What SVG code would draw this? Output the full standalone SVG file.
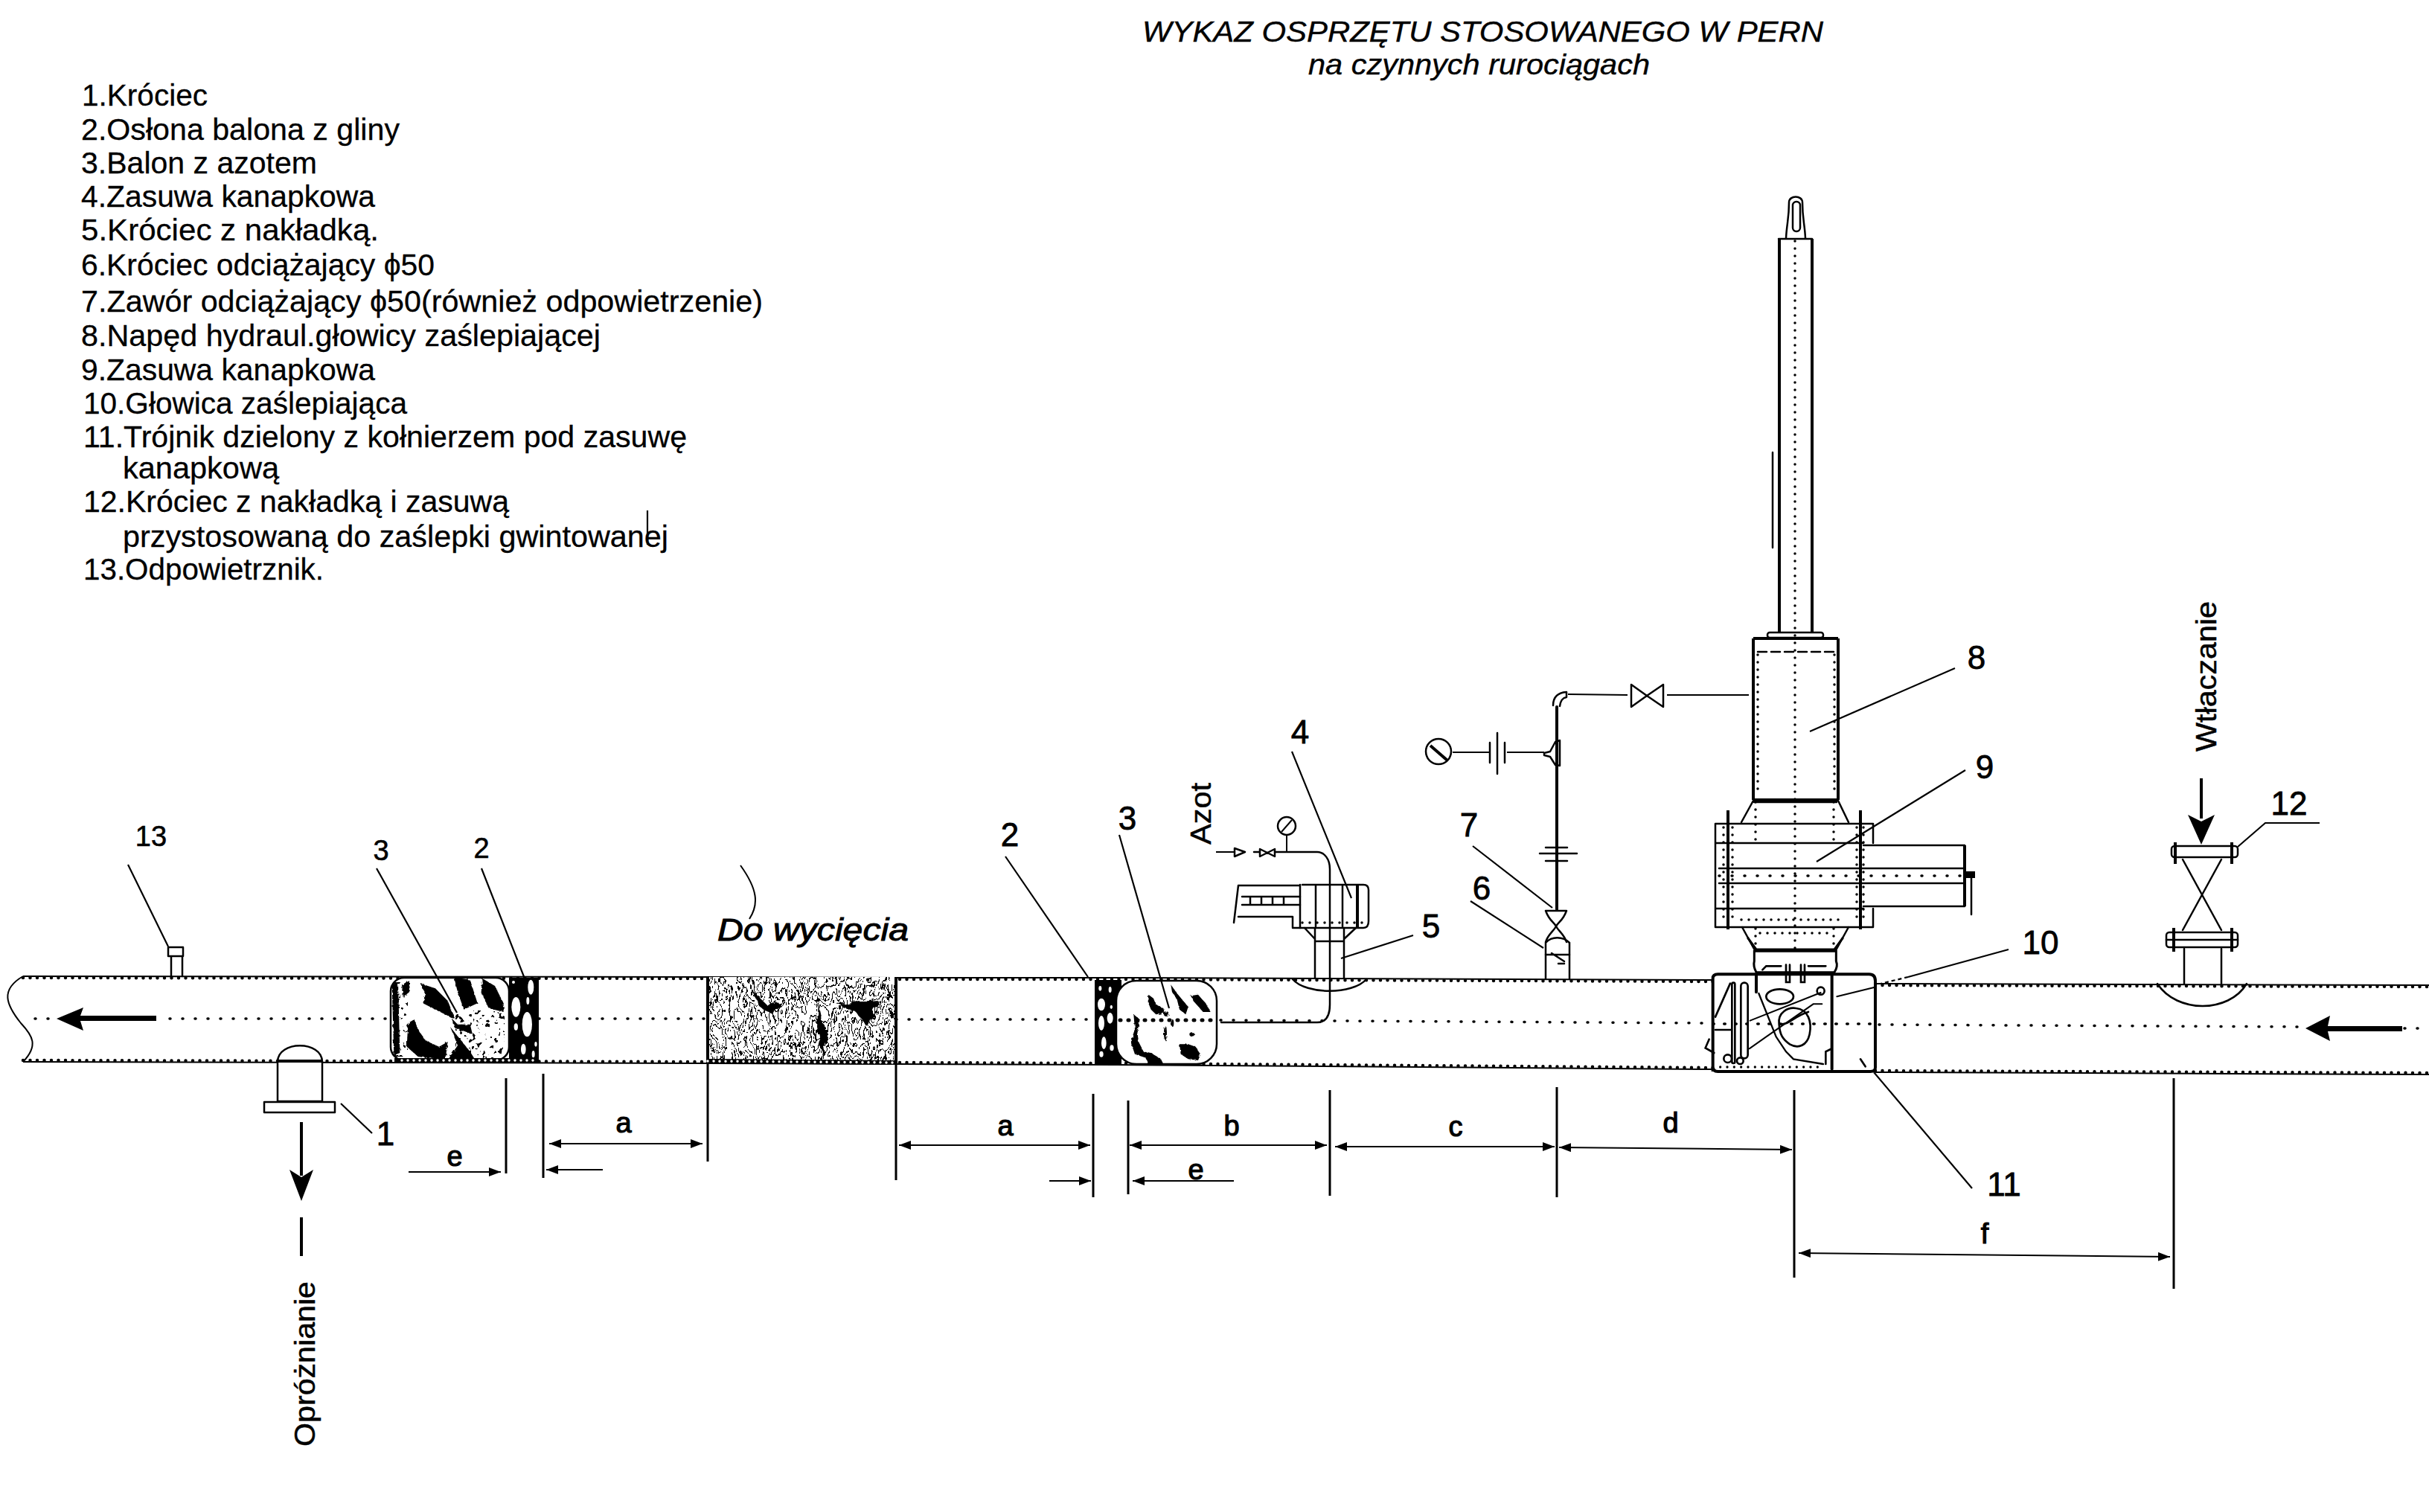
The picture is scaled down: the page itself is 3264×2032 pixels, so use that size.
<svg xmlns="http://www.w3.org/2000/svg" width="3264" height="2032" viewBox="0 0 3264 2032">
<style>
text{font-family:"Liberation Sans",Arial,sans-serif;fill:#000}
.l{font-size:40px;stroke:#000;stroke-width:.3}
.t{font-size:38px;font-style:italic;stroke:#000;stroke-width:.4}
.n{font-size:44px;text-anchor:middle;stroke:#000;stroke-width:.8}
.s{font-size:38px;text-anchor:middle;stroke:#000;stroke-width:.6}
.d{font-size:38px;text-anchor:middle;stroke:#000;stroke-width:1.2}
.v{font-size:38px;stroke:#000;stroke-width:.5}
.o,.o *{fill:none;stroke:#000;stroke-width:2.5;stroke-linecap:round;stroke-linejoin:round}
.th,.th *{stroke-width:4}
.w{fill:#fff;stroke:#000;stroke-width:2.5;stroke-linejoin:round}
.b{fill:#000;stroke:none}
.f{fill:#fff;stroke:none}
.lead{fill:none;stroke:#000;stroke-width:2.2}
.dim{fill:none;stroke:#000;stroke-width:2;marker-start:url(#ah);marker-end:url(#ah)}
.dimr{fill:none;stroke:#000;stroke-width:2;marker-end:url(#ah)}
.ext{fill:none;stroke:#000;stroke-width:3}
.pl{fill:none;stroke:#000;stroke-width:2}
.pd{fill:none;stroke:#000;stroke-width:4.5;stroke-linecap:round;stroke-dasharray:0 9.5}
.cl{fill:none;stroke:#000;stroke-width:3.5;stroke-linecap:round;stroke-dasharray:1 16}
.vd{fill:none;stroke:#000;stroke-width:3.5;stroke-linecap:round;stroke-dasharray:0 10}
.big{fill:none;stroke:#000;stroke-width:4}
</style>
<defs>
<marker id="ah" viewBox="0 0 16 12" refX="16" refY="6" markerWidth="16" markerHeight="12" markerUnits="userSpaceOnUse" orient="auto-start-reverse"><path d="M0 0L16 6L0 12Z"/></marker>
<filter id="rough" x="-5%" y="-5%" width="110%" height="110%"><feTurbulence type="fractalNoise" baseFrequency="0.09" numOctaves="2" seed="4" result="n"/><feDisplacementMap in="SourceGraphic" in2="n" scale="12"/></filter>
<filter id="speck" x="0" y="0" width="100%" height="100%" color-interpolation-filters="sRGB"><feTurbulence type="fractalNoise" baseFrequency="0.17" numOctaves="2" seed="9"/><feColorMatrix values="0 0 0 0 0 0 0 0 0 0 0 0 0 0 0 22 0 0 0 -13.6"/></filter>
<filter id="veins" x="0" y="0" width="100%" height="100%" color-interpolation-filters="sRGB"><feTurbulence type="fractalNoise" baseFrequency="0.06 0.024" numOctaves="4" seed="21"/><feColorMatrix values="0 0 0 0 0 0 0 0 0 0 0 0 0 0 0 1 0 0 0 0"/><feComponentTransfer><feFuncA type="discrete" tableValues="0 0 0 0 0 0 0 0 0 0 1 0 0 0 1 0 0 0 1 0 0 0 1 0 0 0 0 0 0 0 0"/></feComponentTransfer></filter>
<clipPath id="cb1"><rect x="525" y="1314" width="158" height="110" rx="17"/></clipPath>
<clipPath id="cb3"><rect x="951" y="1313" width="253" height="116"/></clipPath>
</defs>
<rect width="3264" height="2032" fill="#fff"/>

<g id="title">
<text class="t" x="1535" y="56" textLength="915" lengthAdjust="spacingAndGlyphs">WYKAZ OSPRZĘTU STOSOWANEGO W PERN</text>
<text class="t" x="1758" y="100" textLength="459" lengthAdjust="spacingAndGlyphs">na czynnych rurociągach</text>
</g>

<g id="legend">
<text class="l" x="110" y="142" textLength="169" lengthAdjust="spacingAndGlyphs">1.Króciec</text>
<text class="l" x="109" y="188" textLength="428" lengthAdjust="spacingAndGlyphs">2.Osłona balona z gliny</text>
<text class="l" x="109" y="233" textLength="317" lengthAdjust="spacingAndGlyphs">3.Balon z azotem</text>
<text class="l" x="109" y="278" textLength="395" lengthAdjust="spacingAndGlyphs">4.Zasuwa kanapkowa</text>
<text class="l" x="109" y="323" textLength="400" lengthAdjust="spacingAndGlyphs">5.Króciec  z nakładką.</text>
<text class="l" x="109" y="370" textLength="475" lengthAdjust="spacingAndGlyphs">6.Króciec odciążający ϕ50</text>
<text class="l" x="109" y="419" textLength="916" lengthAdjust="spacingAndGlyphs">7.Zawór odciążający ϕ50(również odpowietrzenie)</text>
<text class="l" x="109" y="465" textLength="698" lengthAdjust="spacingAndGlyphs">8.Napęd hydraul.głowicy zaślepiającej</text>
<text class="l" x="109" y="511" textLength="395" lengthAdjust="spacingAndGlyphs">9.Zasuwa kanapkowa</text>
<text class="l" x="112" y="556" textLength="435" lengthAdjust="spacingAndGlyphs">10.Głowica zaślepiająca</text>
<text class="l" x="112" y="601" textLength="811" lengthAdjust="spacingAndGlyphs">11.Trójnik dzielony z kołnierzem pod zasuwę</text>
<text class="l" x="165" y="643" textLength="210" lengthAdjust="spacingAndGlyphs">kanapkową</text>
<text class="l" x="112" y="688" textLength="572" lengthAdjust="spacingAndGlyphs">12.Króciec z nakładką i zasuwą</text>
<text class="l" x="165" y="735" textLength="733" lengthAdjust="spacingAndGlyphs">przystosowaną do zaślepki gwintowanej</text>
<text class="l" x="112" y="779" textLength="323" lengthAdjust="spacingAndGlyphs">13.Odpowietrznik.</text>
<path class="lead" d="M870 686V732"/>
</g>

<g id="pipeline">
<path class="pl" d="M31 1312C0 1330 8 1350 28 1375C44 1392 52 1405 31 1427"/>
<path class="pl" d="M31 1312L951 1313L1204 1314L1500 1314L2302 1317"/>
<path class="pd" d="M31 1314L951 1315L1204 1316L1500 1316L2302 1319"/>
<path class="pl" d="M31 1427L951 1429L1204 1430L1500 1431L2302 1437"/>
<path class="pd" d="M31 1425L951 1427L1204 1428L1500 1429L2302 1435"/>
<path class="pl" d="M2520 1322L3264 1324"/>
<path class="pd" d="M2520 1324L3264 1326"/>
<path class="pl" d="M2520 1441L3264 1444"/>
<path class="pd" d="M2520 1439L3264 1442"/>
<path class="cl" d="M228 1369L524 1369M690 1369H951M1204 1370H1465M1640 1371L2300 1375M2525 1377L3098 1380"/>
<path class="cl" d="M47 1369H70M3231 1382H3264"/>
<path class="b" d="M76 1369L112 1354L108 1365H210V1372H108L112 1385Z"/>
<path class="b" d="M3098 1382L3131 1365L3128 1379H3228V1386H3128L3131 1399Z"/>
</g>

<g id="n13">
<path class="o" d="M230 1285V1312M245 1285V1312M226 1273H246V1285H226Z"/>
<text class="s" x="203" y="1137">13</text>
</g>

<g id="n1">
<path class="w" d="M373 1480V1427C373 1398 433 1398 433 1427V1480Z"/>
<path class="big" d="M372 1426H434"/>
<rect class="w" x="355" y="1481" width="95" height="14"/>
<text class="n" x="518" y="1539">1</text>
<path class="big" d="M405 1508V1580"/>
<path class="b" d="M405 1614L389 1572L405 1582L421 1572Z"/>
<path class="big" d="M405 1636V1688"/>
<text class="v" transform="translate(423 1944) rotate(-90)" textLength="222" lengthAdjust="spacingAndGlyphs">Opróżnianie</text>
</g>

<g id="balloon-left">
<rect class="w" x="525" y="1314" width="159" height="111" rx="18" stroke-width="3.5"/>
<g clip-path="url(#cb1)">
<rect x="612" y="1358" width="66" height="64" filter="url(#speck)"/>
<rect x="530" y="1320" width="18" height="100" filter="url(#speck)"/>
<g filter="url(#rough)" transform="translate(500 1290) scale(.3333)">
<path class="b" d="M195 95L255 115L305 165L335 240L255 200L205 175L215 140Z"/>
<path class="b" d="M330 70L395 80L425 175L370 200L345 130Z"/>
<path class="b" d="M445 75L495 105L530 175L530 210L470 195L440 130Z"/>
<path class="b" d="M145 255L140 350L185 390L295 405L305 330L270 350L215 325L185 280L170 240Z"/>
<path class="b" d="M315 270L395 370L420 410L300 410L345 345Z"/>
<path class="b" d="M80 100L105 90L112 375L88 385Z"/>
<path class="b" d="M120 100L150 85L150 130L125 150Z"/>
<path class="b" d="M320 235L345 260L395 260L405 300L365 285L335 275Z"/>
</g>
</g>
<rect x="684" y="1314" width="40" height="112" class="b"/>
<g class="f" transform="translate(500 1290) scale(.3333)">
<ellipse cx="640" cy="110" rx="12" ry="30"/><ellipse cx="580" cy="190" rx="18" ry="40"/><ellipse cx="625" cy="260" rx="20" ry="50"/><ellipse cx="610" cy="360" rx="10" ry="22"/><ellipse cx="650" cy="380" rx="6" ry="14"/><ellipse cx="580" cy="270" rx="8" ry="14"/><ellipse cx="660" cy="340" rx="5" ry="10"/><ellipse cx="570" cy="90" rx="6" ry="6"/><ellipse cx="628" cy="165" rx="6" ry="15"/>
</g>
<path fill="none" stroke="#000" stroke-width="6" d="M530 1425H724"/>
<path fill="none" stroke="#fff" stroke-width="3.5" stroke-linecap="round" stroke-dasharray="0 8" d="M540 1425H724"/>
<text class="s" x="512" y="1156">3</text>
<text class="s" x="647" y="1153">2</text>
</g>

<g id="cut-section">
<rect class="f" x="951" y="1313" width="253" height="116"/>
<g clip-path="url(#cb3)"><rect x="951" y="1313" width="253" height="116" filter="url(#veins)"/></g>
<g filter="url(#rough)"><path class="b" d="M1010 1330L1030 1350L1050 1345L1040 1365L1020 1352ZM1100 1345L1112 1400L1105 1420L1098 1380ZM1125 1350L1180 1345L1165 1380L1150 1360Z"/></g>
<path class="big" d="M951 1313V1428M1204 1313V1429"/>
<path fill="none" stroke="#000" stroke-width="6" d="M951 1426L1204 1428"/>
<path fill="none" stroke="#fff" stroke-width="3.5" stroke-linecap="round" stroke-dasharray="0 8" d="M951 1426L1204 1428"/>
<text x="964" y="1264" font-size="42" font-style="italic" stroke="#000" stroke-width="1" textLength="257" lengthAdjust="spacingAndGlyphs">Do wycięcia</text>
<path class="pl" d="M995 1163C1018 1195 1020 1215 1007 1235" stroke-width="1.5"/>
</g>

<g id="balloon-right">
<rect class="b" x="1471" y="1317" width="36" height="114"/>
<g class="f" transform="translate(1450 1300) scale(.3333)">
<ellipse cx="85" cy="85" rx="6" ry="10"/><ellipse cx="90" cy="150" rx="15" ry="25"/><ellipse cx="125" cy="90" rx="6" ry="12"/><ellipse cx="125" cy="205" rx="12" ry="22"/><ellipse cx="90" cy="225" rx="12" ry="30"/><ellipse cx="100" cy="305" rx="10" ry="25"/><ellipse cx="132" cy="325" rx="8" ry="12"/><ellipse cx="90" cy="350" rx="8" ry="12"/><ellipse cx="130" cy="160" rx="5" ry="8"/>
</g>
<rect class="w" x="1500" y="1318" width="135" height="112" rx="27" stroke-width="3"/>
<g filter="url(#rough)" transform="translate(1450 1300) scale(.3333)">
<path class="b" d="M280 110L300 125L310 150L340 165L345 185L310 190L290 170L278 140Z"/>
<path class="b" d="M370 70L395 105L420 135L440 160L430 190L405 170L395 130L375 100Z"/>
<path class="b" d="M450 115L480 110L515 150L530 180L500 180L465 140Z"/>
<path class="b" d="M220 190L245 210L235 260L240 300L260 340L290 345L330 370L340 390L280 390L270 365L225 350L208 300L225 250Z"/>
<path class="b" d="M405 310L440 310L470 320L490 350L480 375L440 370L410 350Z"/>
<ellipse class="b" cx="352" cy="188" rx="10" ry="10"/><ellipse class="b" cx="348" cy="265" rx="6" ry="30"/><ellipse class="b" cx="377" cy="225" rx="5" ry="15"/><ellipse class="b" cx="455" cy="270" rx="10" ry="8"/>
</g>
<path fill="none" stroke="#000" stroke-width="5" stroke-linecap="round" stroke-dasharray="1 10" d="M1505 1371H1630"/>
<text class="n" x="1357" y="1137">2</text>
<text class="n" x="1515" y="1115">3</text>
</g>

<g id="n4">
<text class="v" transform="translate(1627 1135) rotate(-90)" textLength="83" lengthAdjust="spacingAndGlyphs" stroke-width="1">Azot</text>
<path class="pl" d="M1634 1145H1660"/><path class="w" d="M1659 1140L1673 1145L1659 1151Z"/>
<path class="o" d="M1685 1145H1692M1693 1141L1713 1151V1141L1693 1151Z"/>
<circle class="w" cx="1729" cy="1110" r="12"/><path class="pl" d="M1722 1118L1736 1102M1729 1122V1145"/>
<path class="o" d="M1713 1145H1770C1780 1145 1787 1155 1787 1168V1350C1787 1367 1780 1374 1770 1374H1641"/>
<path class="o" d="M1664 1190H1747M1664 1232H1737V1246M1664 1190L1658 1240M1747 1189V1247"/>
<path class="o" d="M1669 1205H1747M1669 1216H1747M1680 1205V1216M1695 1205V1216M1710 1205V1216M1725 1205V1216" stroke-width="2"/>
<path class="o" d="M1750 1189H1832Q1839 1189 1839 1196V1238Q1839 1247 1832 1247H1737"/>
<path class="o" d="M1768 1190V1245M1804 1190V1245" stroke-width="2"/>
<path class="big" d="M1824 1190V1246"/>
<path class="vd" d="M1750 1240H1835" stroke-width="4"/>
<path class="o" d="M1767 1247V1314M1806 1247V1314M1767 1265H1806M1753 1247L1767 1262M1822 1247L1806 1262"/>
<text class="n" x="1747" y="999">4</text>
</g>

<g id="n5">
<path class="o" d="M1737 1316C1755 1337 1818 1337 1836 1316"/>
<text class="n" x="1923" y="1260">5</text>
</g>

<g id="n6-7">
<path class="o" d="M2077 1267V1315M2109 1267V1315M2077 1267C2085 1258 2100 1258 2109 1267"/>
<path class="o" d="M2077 1283H2109M2094 1295H2102M2085 1281L2102 1292" stroke-width="2"/>
<path class="o" d="M2077 1224H2105C2100 1238 2093 1240 2091 1245C2095 1252 2102 1256 2105 1266M2077 1266C2080 1256 2087 1252 2091 1245C2089 1240 2082 1238 2077 1224"/>
<path class="th o" d="M2092 950V1222"/>
<path class="o" d="M2002 998V1025M2022 998V1025M2012 985V1040" stroke-width="3.5"/>
<circle class="w" cx="1933" cy="1010" r="17" stroke-width="3.5"/>
<path class="big" d="M1922 1002L1945 1022"/>
<path class="pl" d="M1952 1011H2001M2025 1011H2075"/>
<path class="o" d="M2075 1012L2083 1010L2090 997L2096 995V1029L2090 1028L2083 1017L2075 1015Z" stroke-width="3"/>
<path class="o" d="M2087 948C2087 938 2092 931 2105 930V937C2099 938 2097 942 2096 949" stroke-width="3"/>
<path class="pl" d="M2107 933L2187 934M2240 934H2350"/>
<path class="o" d="M2192 920V950L2213 935ZM2235 920V950L2213 935Z" stroke-width="3"/>
<path class="o" d="M2069 1147H2119" stroke-width="3"/><path class="o" d="M2077 1139H2106M2077 1157H2106" stroke-width="3"/>
<text class="n" x="1974" y="1124">7</text>
<text class="n" x="1991" y="1209">6</text>
</g>

<g id="n8">
<path class="o" d="M2400 320C2401 300 2404 294 2404 272C2404 262 2422 262 2422 272C2422 294 2425 300 2426 320"/>
<rect class="o" x="2409" y="271" width="10" height="40" rx="5"/>
<path class="o" d="M2390 321H2435"/>
<path class="big" d="M2391 321V850M2435 321V850"/>
<path class="o" d="M2382 608V736" stroke-width="3"/>
<rect class="o" x="2375" y="850" width="75" height="7" rx="3"/>
<path class="big" d="M2356 858H2470M2356 858V1075M2470 858V1075"/>
<path class="o" d="M2362 876H2464" stroke-dasharray="12 6"/>
<path class="vd" d="M2362 880V1070M2465 880V1070"/>
<path class="big" d="M2356 1075H2470"/>
<path class="o" d="M2357 1078H2468"/>
<path class="o" d="M2356 1076L2340 1105M2470 1076L2484 1105"/>
<path class="vd" d="M2412 324V1440"/>
<text class="n" x="2656" y="899">8</text>
</g>

<g id="n9">
<path class="o" d="M2305 1107H2517V1133M2305 1107V1246H2517V1221M2305 1133H2504M2305 1221H2504"/>
<path class="big" d="M2322 1089V1249M2500 1089V1249"/>
<path class="o" d="M2504 1136H2640M2504 1218H2640"/>
<path class="big" d="M2640 1136V1218"/>
<path class="o" d="M2310 1167H2640M2310 1187H2640"/>
<path class="cl" d="M2310 1177H2640" stroke-dasharray="8 8 3 8"/>
<path class="vd" d="M2316 1112V1242M2328 1112V1242M2495 1112V1242M2504 1112V1242M2359 1078V1133M2464 1078V1133"/>
<path class="vd" d="M2359 1248V1277M2464 1248V1277M2365 1254H2460M2340 1236H2480" stroke-width="3"/>
<path class="b" d="M2640 1171H2654V1180H2640Z"/><path class="o" d="M2649 1180V1229"/>
<path class="o" d="M2341 1246L2358 1277M2484 1246L2467 1277"/>
<text class="n" x="2667" y="1046">9</text>
</g>

<g id="n10-11">
<g transform="translate(2280 1260) scale(.3333)">
<path d="M65 540V165Q65 148 85 148H695Q720 148 720 175V525Q720 540 700 540H85Q65 540 65 520" fill="#fff" stroke="#000" stroke-width="12"/>
<path d="M205 0L240 48H555L590 0" fill="none" stroke="#000" stroke-width="9"/>
<path d="M232 55V95C228 110 232 125 240 140H555C565 125 568 110 562 95V55Z" fill="#fff" stroke="#000" stroke-width="9"/>
<g fill="none" stroke="#000" stroke-width="8" stroke-linecap="round">
<path d="M240 148V220M545 150V530" stroke-width="12"/>
<path d="M135 185L75 320M75 372H140"/>
<rect x="142" y="182" width="12" height="325" rx="6"/><rect x="178" y="182" width="28" height="305" rx="14"/>
<path d="M215 335L500 222M212 448L280 400L470 268L505 268M565 238L718 200" stroke-width="6"/>
<path d="M250 225L320 400L360 460L390 490L510 510" stroke-width="7"/>
<ellipse cx="335" cy="238" rx="55" ry="30"/>
<path d="M332 350C325 300 370 280 400 285C450 290 465 340 455 390C445 435 410 450 375 430C345 410 335 390 332 350ZM335 350C380 350 385 320 450 300"/>
<circle cx="500" cy="215" r="15"/><circle cx="125" cy="488" r="16"/><circle cx="175" cy="497" r="13"/>
<path d="M520 510V460L540 450M660 490L680 520M50 410L35 445L70 465"/>
<path d="M360 110V180H375V110M420 110V180H435V110M265 130L280 115H340M450 115H520"/>
</g>
<path d="M95 522H510" stroke="#000" stroke-width="10" stroke-linecap="round" stroke-dasharray="0 28" fill="none"/>
<path d="M65 348H720" stroke="#000" stroke-width="10" stroke-linecap="round" stroke-dasharray="5 40" fill="none"/>
</g>
<text class="n" x="2742" y="1282">10</text>
<text class="n" x="2693" y="1607">11</text>
</g>

<g id="n12">
<path class="o" d="M2933 1155L2985 1250M2985 1155L2933 1250"/>
<rect class="w" x="2918" y="1137" width="89" height="15" rx="4"/>
<path class="big" d="M2923 1132V1161M2999 1132V1161"/>
<rect class="w" x="2911" y="1253" width="96" height="20" rx="4"/>
<path class="o" d="M2911 1263H3007"/>
<path class="big" d="M2921 1247V1279M2999 1247V1279"/>
<path class="o" d="M2935 1275V1322M2985 1275V1322"/>
<path class="o" d="M2899 1322C2925 1362 2995 1362 3019 1322"/>
<path class="big" d="M2958 1046V1100"/>
<path class="b" d="M2958 1135L2940 1095L2958 1104L2976 1095Z"/>
<text class="v" transform="translate(2978 1010) rotate(-90)" textLength="202" lengthAdjust="spacingAndGlyphs">Wtłaczanie</text>
<text class="n" x="3076" y="1095">12</text>
</g>

<g id="connectors">
<path class="lead" d="M172 1162L226 1272M506 1167L614 1361M647 1167L705 1315M458 1483L500 1523M1351 1151L1462 1313M1504 1122L1571 1355M1736 1010L1816 1207M1899 1257L1802 1288M1976 1211L2074 1274M1979 1137L2086 1220M2627 898L2432 983M2641 1035L2441 1158M2699 1276L2564 1313M2650 1597L2518 1441M3117 1106H3044L3007 1138"/>
<path class="lead" d="M2564 1313L2527 1322" stroke-dasharray="5 4"/>
<path class="ext" d="M680 1449V1577M730 1443V1583M951 1430V1561M1204 1430V1586M1469 1470V1609M1516 1479V1605M1787 1465V1607M2092 1461V1609M2411 1465V1717M2921 1449V1732"/>
<path class="dim" d="M738 1537H944"/>
<path class="dimr" d="M810 1572H734"/>
<path class="dimr" d="M549 1575H673"/>
<path class="dim" d="M1208 1539H1465"/>
<path class="dim" d="M1518 1539H1783"/>
<path class="dim" d="M1794 1541H2089"/>
<path class="dim" d="M2095 1542L2408 1545"/>
<path class="dimr" d="M1410 1587H1466"/>
<path class="dimr" d="M1658 1587H1522"/>
<path class="dim" d="M2417 1684L2916 1689"/>
<text class="d" x="838" y="1522">a</text>
<text class="d" x="611" y="1567">e</text>
<text class="d" x="1351" y="1526">a</text>
<text class="d" x="1655" y="1526">b</text>
<text class="d" x="1956" y="1527">c</text>
<text class="d" x="2245" y="1522">d</text>
<text class="d" x="1607" y="1585">e</text>
<text class="d" x="2667" y="1671">f</text>
</g>
</svg>
